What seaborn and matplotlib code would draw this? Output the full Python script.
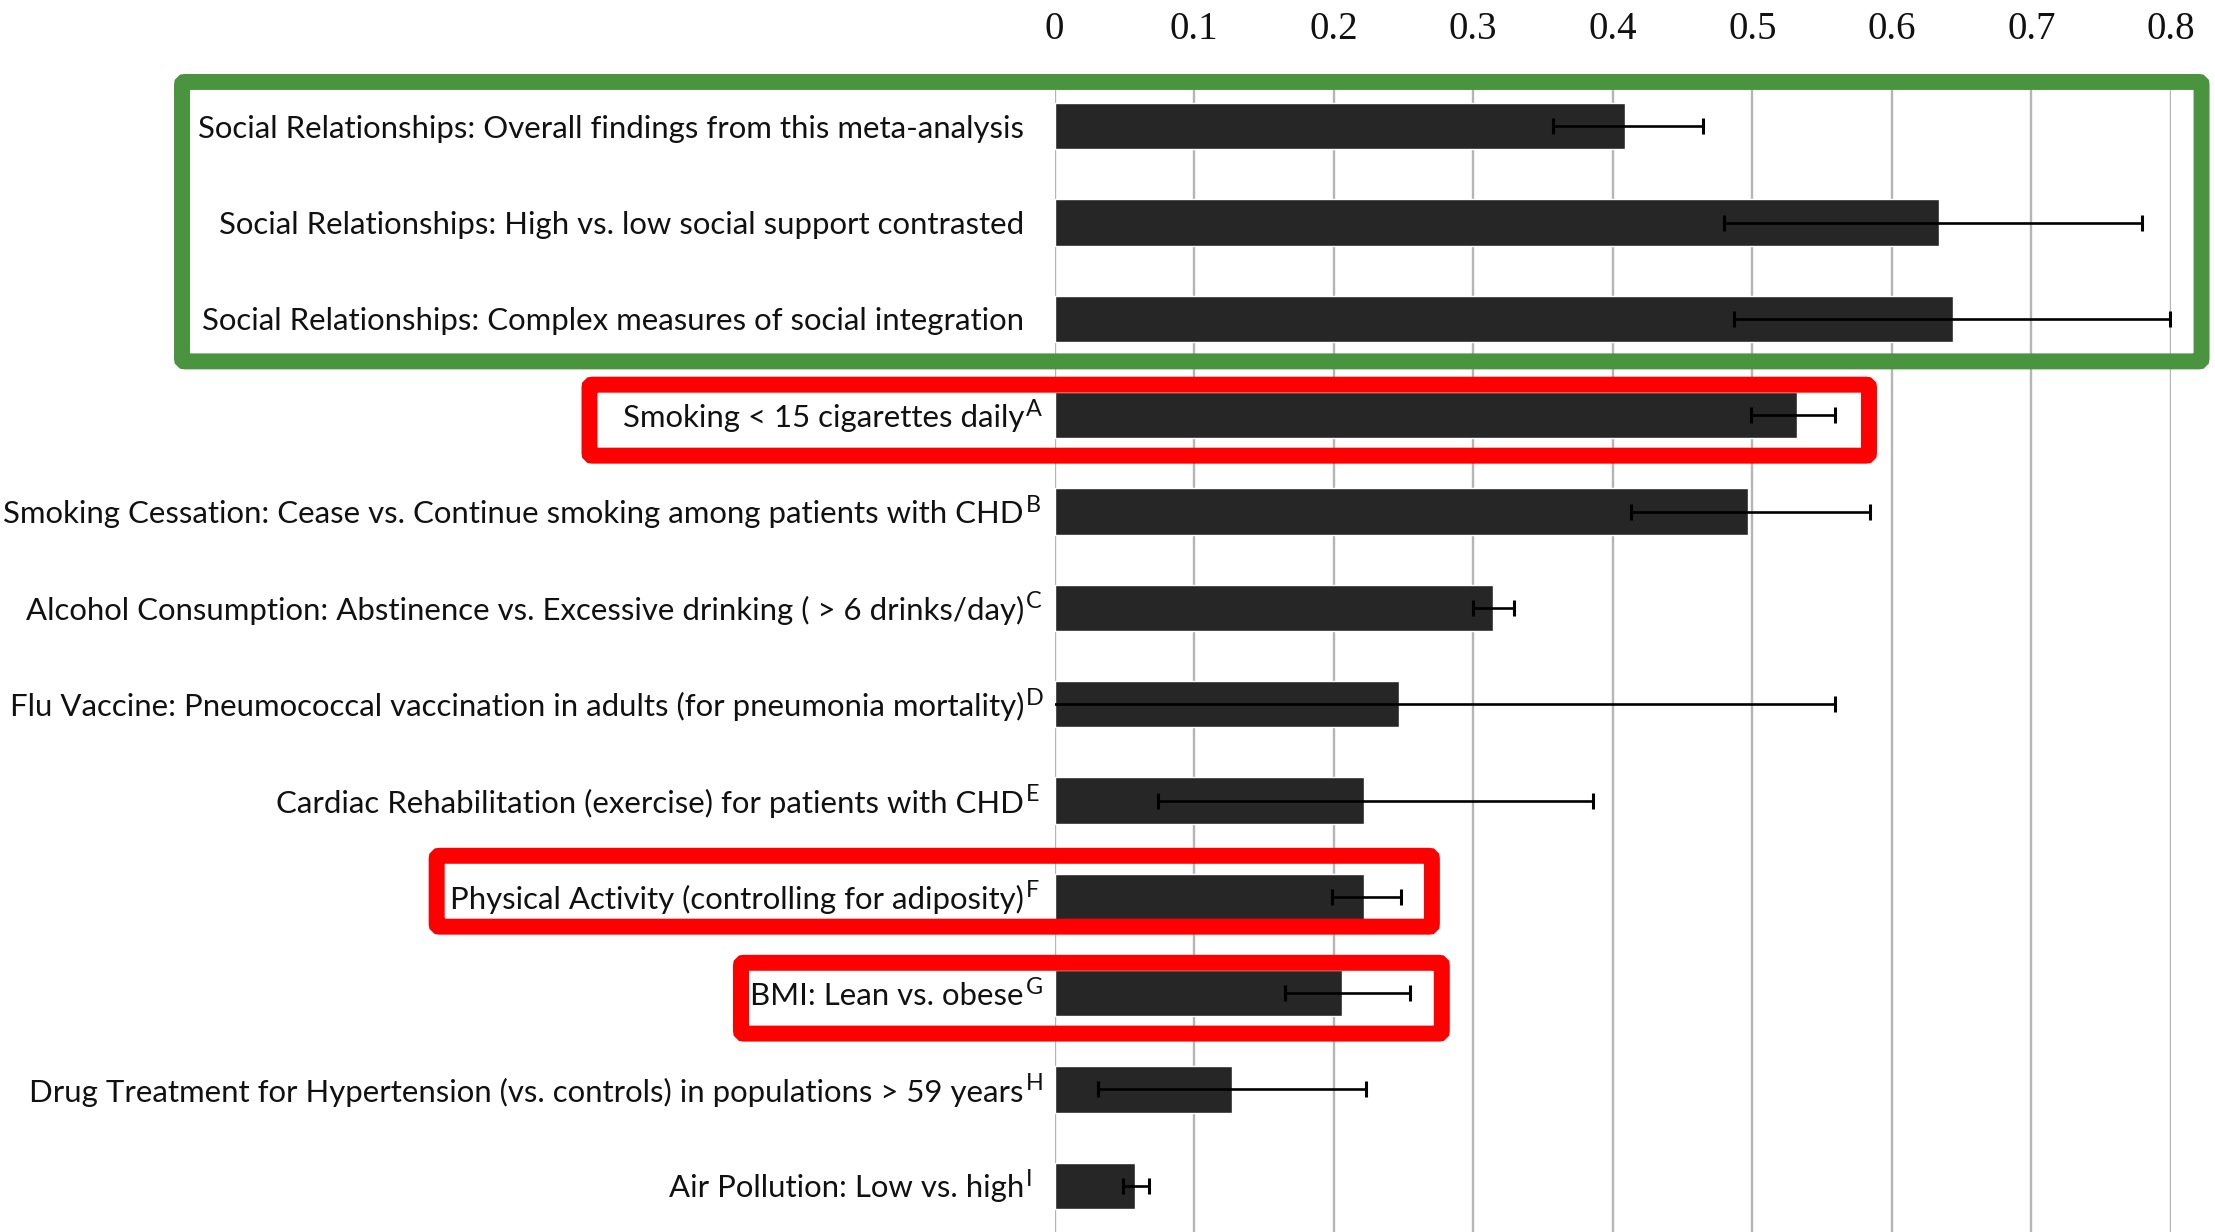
import numpy as np
import pandas as pd
import matplotlib
matplotlib.use("Agg")
import matplotlib.pyplot as plt
from matplotlib.patches import FancyBboxPatch
from matplotlib.transforms import IdentityTransform
import seaborn as sns

# ---- data -------------------------------------------------------------
labels = [
    "Social Relationships: Overall findings from this meta-analysis",
    "Social Relationships: High vs. low social support contrasted",
    "Social Relationships: Complex measures of social integration",
    "Smoking < 15 cigarettes daily",
    "Smoking Cessation: Cease vs. Continue smoking among patients with CHD",
    "Alcohol Consumption: Abstinence vs. Excessive drinking ( > 6 drinks/day)",
    "Flu Vaccine: Pneumococcal vaccination in adults (for pneumonia mortality)",
    "Cardiac Rehabilitation (exercise) for patients with CHD",
    "Physical Activity (controlling for adiposity)",
    "BMI: Lean vs. obese",
    "Drug Treatment for Hypertension (vs. controls) in populations > 59 years",
    "Air Pollution: Low vs. high",
]
notes = ["", "", "", "A", "B", "C", "D", "E", "F", "G", "H", "I"]
effect = [0.409, 0.634, 0.644, 0.532, 0.497, 0.314, 0.247, 0.222, 0.222, 0.206, 0.127, 0.058]
ci_low = [0.357, 0.480, 0.487, 0.499, 0.413, 0.300, -0.02, 0.074, 0.199, 0.165, 0.031, 0.049]
ci_high = [0.465, 0.779, 0.799, 0.559, 0.584, 0.329, 0.559, 0.386, 0.248, 0.255, 0.223, 0.068]
x_ticks = [0, 0.1, 0.2, 0.3, 0.4, 0.5, 0.6, 0.7, 0.8]
x_tick_labels = ["0", "0.1", "0.2", "0.3", "0.4", "0.5", "0.6", "0.7", "0.8"]

# highlight frames: first row, last row, margin above / below (rows),
# left edge (figure px), right edge (x value), colour
frame_rows = [(0, 2), (3, 3), (8, 8), (9, 9)]
frame_margins = [(0.46, 0.441), (0.317, 0.42), (0.426, 0.31), (0.315, 0.42)]
frame_left_px = [182, 589.5, 436.7, 741]
frame_right_val = [0.8219, 0.5836, 0.2704, 0.2775]
frame_colors = ["#4a9440", "#ff0000", "#ff0000", "#ff0000"]

# ---- figure -----------------------------------------------------------
sns.set_style("white")
plt.rcParams["font.family"] = ["Lato", "DejaVu Sans"]

W, H, DPI = 2215, 1232, 100
fig = plt.figure(figsize=(W / DPI, H / DPI), dpi=DPI)
ax_left, ax_right, ax_top, row_px = 1054.5, 2171.0, 78.1, 96.32
ax_h = row_px * len(labels)
ax = fig.add_axes([ax_left / W, (H - ax_top - ax_h) / H,
                   (ax_right - ax_left) / W, ax_h / H])

df = pd.DataFrame({"label": labels, "effect": effect})
sns.barplot(data=df, x="effect", y="label", orient="h", color="#262626",
            saturation=1, width=0.48, errorbar=None, ax=ax, zorder=2)

pos = np.arange(len(labels))
eff = np.array(effect)
ax.errorbar(eff, pos, xerr=[eff - np.array(ci_low), np.array(ci_high) - eff],
            fmt="none", ecolor="black", elinewidth=1.9, capsize=6,
            capthick=2.2, zorder=3)

ax.set_xlim(0, 0.8)
ax.set_ylim(len(labels) - 0.5, -0.5)
ax.set_xticks(x_ticks)
ax.set_xticklabels(x_tick_labels, fontfamily="Liberation Serif", fontsize=28,
                   color="#111111")
ax.xaxis.tick_top()
ax.tick_params(axis="x", length=0, pad=22)
pad_pt = 22
ax.tick_params(axis="y", length=0, pad=pad_pt, labelcolor="#111111")
ax.set_xlabel("")
ax.set_ylabel("")
ax.grid(axis="x", color="#b5b5b5", linewidth=1.7)
ax.grid(axis="y", visible=False)
ax.set_axisbelow(True)
for s in ax.spines.values():
    s.set_visible(False)

# size the category labels so the longest one spans its column
base = 22
for t in ax.get_yticklabels():
    t.set_fontsize(base)
fig.canvas.draw()
renderer = fig.canvas.get_renderer()
w_flu = ax.get_yticklabels()[6].get_window_extent(renderer).width
size = base * 1012 / w_flu
for t in ax.get_yticklabels():
    t.set_fontsize(size)

# footnote letters after the labels
pad_px = pad_pt * DPI / 72
for i, n in enumerate(notes):
    if n:
        ax.annotate(n, xy=(0, i), xycoords=ax.get_yaxis_transform(),
                    xytext=(-pad_px + 2, 8), textcoords="offset pixels",
                    ha="left", va="center_baseline", fontsize=size * 0.75,
                    color="#111111", annotation_clip=False)

# highlight frames
fig.canvas.draw()
for (r0, r1), (m_top, m_bot), lx, rv, col in zip(
        frame_rows, frame_margins, frame_left_px, frame_right_val, frame_colors):
    top = ax.transData.transform((0, r0 - m_top))[1]
    bot = ax.transData.transform((0, r1 + m_bot))[1]
    right = ax.transData.transform((rv, 0))[0]
    patch = FancyBboxPatch((lx, bot), right - lx, top - bot,
                           boxstyle="round,pad=0,rounding_size=3",
                           transform=IdentityTransform(), fill=False,
                           edgecolor=col, linewidth=11.5, zorder=5)
    fig.add_artist(patch)

fig.savefig("out.png", dpi=DPI)
